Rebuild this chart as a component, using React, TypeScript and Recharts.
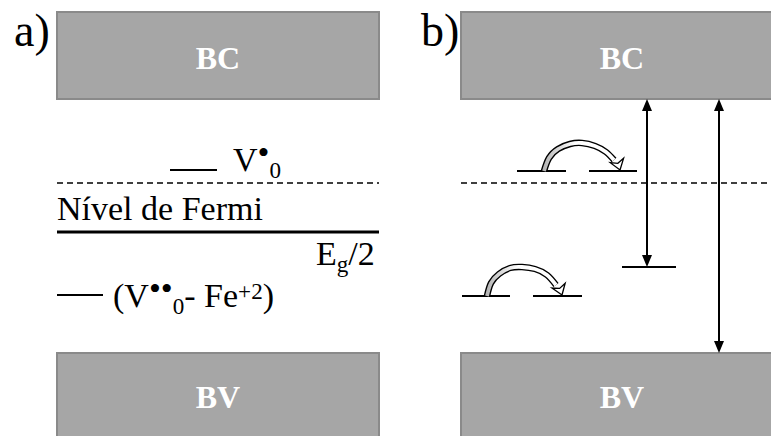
import React from "react"
import {
  ComposedChart, XAxis, YAxis, ReferenceArea, ReferenceLine, Line, Scatter,
} from "recharts"

const FONT = "'Liberation Serif', Tinos, 'Times New Roman', 'DejaVu Serif', serif"
const W = 771
const H = 436

// bands: x range and energy range (screen units, top = high energy)
const bands = [
  { name: "BC", x1: 57, x2: 379, y1: 12, y2: 99 },
  { name: "BV", x1: 57, x2: 379, y1: 353, y2: 437 },
  { name: "BC", x1: 461, x2: 783, y1: 12, y2: 99 },
  { name: "BV", x1: 461, x2: 783, y1: 353, y2: 437 },
]

// localised defect levels
const levels = [
  { x1: 170, x2: 217, y: 170 },
  { x1: 57, x2: 103, y: 295 },
  { x1: 517, x2: 566, y: 171 },
  { x1: 589, x2: 637, y: 171 },
  { x1: 462, x2: 510, y: 296 },
  { x1: 533, x2: 582, y: 296 },
  { x1: 622, x2: 676, y: 267 },
]

const fermiLevels = [
  { x1: 57, x2: 379, y: 183 },
  { x1: 461, x2: 771, y: 183 },
]

const midGap = [{ x1: 57, x2: 379, y: 232 }]

// optical transitions (double headed)
const transitions = [
  { x: 647, from: 99, to: 267 },
  { x: 719, from: 99, to: 353 },
]

// hopping arcs
const hopUpper = [
  { x: 544, y: 171 }, { x: 549, y: 158 }, { x: 558, y: 149 }, { x: 570, y: 144 },
  { x: 582, y: 143 }, { x: 595, y: 146 }, { x: 606, y: 152 }, { x: 614, y: 160 },
]
const hopLower = [
  { x: 487, y: 296 }, { x: 491, y: 283 }, { x: 499, y: 274 }, { x: 510, y: 268 },
  { x: 522, y: 267 }, { x: 535, y: 269 }, { x: 547, y: 275 }, { x: 556, y: 285 },
]
const hopHeads = [
  { x: 620, y: 170, angle: 72 },
  { x: 562, y: 295, angle: 70 },
]

const panelLabels = [
  { x: 14, y: 46, text: "a)" },
  { x: 421, y: 46, text: "b)" },
]

const levelLabels = [
  { x: 233, y: 171, parts: [{ t: "V" }, { t: "•", v: "dot" }, { t: "0", v: "sub" }] },
  { x: 57, y: 220, parts: [{ t: "Nível de Fermi" }] },
  { x: 316, y: 265, parts: [{ t: "E" }, { t: "g", v: "sub" }, { t: "/2" }] },
  {
    x: 113, y: 307,
    parts: [
      { t: "(V" }, { t: "••", v: "dot" }, { t: "0", v: "sub" },
      { t: "- Fe" }, { t: "+2", v: "sup" }, { t: ")" },
    ],
  },
]

const arrowTips = transitions.flatMap((t) => [
  { x: t.x, y: t.from, dir: -1 },
  { x: t.x, y: t.to, dir: 1 },
])

function RichText({ x, y, parts, size }: any) {
  let cur = 0
  return (
    <text x={x} y={y} fill="#000" fontFamily={FONT} fontSize={size} style={{ whiteSpace: "pre" }}>
      {parts.map((p: any, i: number) => {
        const shift = p.v === "sub" ? size * 0.2 : p.v === "sup" ? -size * 0.25 : p.v === "dot" ? -size * 0.2 : 0
        const fs = p.v === "sub" || p.v === "sup" ? size * 0.68 : size
        const dy = shift - cur
        cur = shift
        return <tspan key={i} dy={dy} fontSize={fs} fontFamily={FONT}>{p.t}</tspan>
      })}
    </text>
  )
}

function SolidHead({ cx, cy, payload }: any) {
  const d = payload.dir
  const len = 12, hw = 5
  return (
    <path
      d={`M${cx},${cy} L${cx - hw},${cy - d * len} L${cx + hw},${cy - d * len} Z`}
      fill="#000"
    />
  )
}

function OpenHead({ cx, cy, payload }: any) {
  const len = 10, hw = 7
  return (
    <g transform={`translate(${cx},${cy}) rotate(${payload.angle})`}>
      <path d={`M0,0 L${-len},${-hw} L${-len + 3},0 L${-len},${hw} Z`} fill="#fff" stroke="#000" strokeWidth={1.3} />
    </g>
  )
}

function BandLabel({ viewBox, value }: any) {
  const { x, y, width, height } = viewBox
  return (
    <text
      x={x + width / 2} y={y + height / 2 + 13}
      textAnchor="middle" fill="#fff"
      fontFamily={FONT} fontSize={32} fontWeight={700}
    >
      {value}
    </text>
  )
}

export default function App() {
  return (
    <div style={{ position: "absolute", left: 0, top: 0, width: W, height: H, background: "#fff" }}>
      <ComposedChart width={W} height={H} margin={{ top: 0, right: 0, bottom: 0, left: 0 }}>
        <defs>
          <linearGradient id="hopFill" x1="0" y1="0" x2="1" y2="0">
            <stop offset="0%" stopColor="#b5b5b5" />
            <stop offset="20%" stopColor="#d8d8d8" />
            <stop offset="45%" stopColor="#ffffff" />
          </linearGradient>
        </defs>
        <XAxis type="number" dataKey="x" domain={[0, W]} hide allowDataOverflow />
        <YAxis type="number" dataKey="y" domain={[0, H]} reversed hide allowDataOverflow />

        {bands.map((b, i) => (
          <ReferenceArea
            key={`band-${i}`}
            x1={b.x1} x2={b.x2} y1={b.y1} y2={b.y2}
            fill="#a6a6a6" fillOpacity={1}
            stroke="#8a8a8a" strokeWidth={2}
            ifOverflow="visible"
            label={<BandLabel value={b.name} />}
          />
        ))}

        {fermiLevels.map((l, i) => (
          <ReferenceLine
            key={`ef-${i}`}
            segment={[{ x: l.x1, y: l.y }, { x: l.x2, y: l.y }]}
            stroke="#000" strokeWidth={1.4} strokeDasharray="6 4"
            ifOverflow="visible"
          />
        ))}

        {midGap.map((l, i) => (
          <ReferenceLine
            key={`mg-${i}`}
            segment={[{ x: l.x1, y: l.y }, { x: l.x2, y: l.y }]}
            stroke="#000" strokeWidth={3}
            ifOverflow="visible"
          />
        ))}

        {levels.map((l, i) => (
          <ReferenceLine
            key={`lv-${i}`}
            segment={[{ x: l.x1, y: l.y }, { x: l.x2, y: l.y }]}
            stroke="#000" strokeWidth={2}
            ifOverflow="visible"
          />
        ))}

        {transitions.map((t, i) => (
          <ReferenceLine
            key={`tr-${i}`}
            segment={[{ x: t.x, y: t.from + 6 }, { x: t.x, y: t.to - 6 }]}
            stroke="#000" strokeWidth={2}
            ifOverflow="visible"
          />
        ))}

        {[hopUpper, hopLower].map((arc, i) => (
          <Line
            key={`hopo-${i}`}
            data={arc} dataKey="y" type="natural"
            stroke="#000" strokeWidth={6.5} dot={false} activeDot={false}
            isAnimationActive={false}
          />
        ))}
        {[hopUpper, hopLower].map((arc, i) => (
          <Line
            key={`hopi-${i}`}
            data={arc} dataKey="y" type="natural"
            stroke="url(#hopFill)" strokeWidth={3.8} dot={false} activeDot={false}
            isAnimationActive={false}
          />
        ))}

        <Scatter data={arrowTips} dataKey="y" shape={(p: any) => <SolidHead {...p} />} isAnimationActive={false} />
        <Scatter data={hopHeads} dataKey="y" shape={(p: any) => <OpenHead {...p} />} isAnimationActive={false} />

        <Scatter
          data={panelLabels} dataKey="y" isAnimationActive={false}
          shape={(p: any) => (
            <text x={p.cx} y={p.cy} fill="#000" fontFamily={FONT} fontSize={46}>{p.payload.text}</text>
          )}
        />
        <Scatter
          data={levelLabels} dataKey="y" isAnimationActive={false}
          shape={(p: any) => <RichText x={p.cx} y={p.cy} parts={p.payload.parts} size={34} />}
        />
      </ComposedChart>
    </div>
  )
}
